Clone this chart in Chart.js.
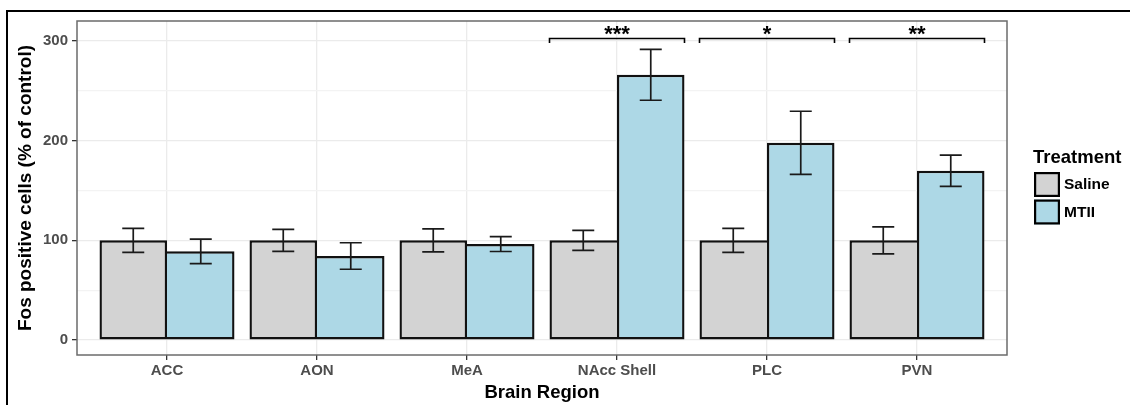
<!DOCTYPE html>
<html><head><meta charset="utf-8">
<script src="https://cdn.jsdelivr.net/npm/chart.js@4.4.1/dist/chart.umd.min.js"></script>
<style>html,body{margin:0;padding:0;background:#fff;}</style>
</head><body>
<canvas id="c" width="1130" height="405" style="display:block;width:1130px;height:405px"></canvas>
<script>
// ---- data ----
const categories = ['ACC', 'AON', 'MeA', 'NAcc Shell', 'PLC', 'PVN'];
const seriesNames = ['Saline', 'MTII'];
const salineMeans = [100, 100, 100, 100, 100, 100];
const salineErr = [12, 11, 11.5, 10, 12, 13.5];
const mtiiMeans = [89, 84.3, 96.3, 266, 197.8, 169.8];
const mtiiErr = [12.3, 13.3, 7.5, 25.5, 31.7, 15.6];
const significance = ['', '', '', '***', '*', '**'];
const yMajorTicks = [0, 100, 200, 300];
const yMinorTicks = [50, 150, 250];
const bracketValue = 302.5;
const bracketTipValue = 298;
const starValue = 313;

const FONT = "'Liberation Sans', Arial, Helvetica, sans-serif";
Chart.defaults.font.family = FONT;
const fills = ['#d3d3d3', '#add8e6'];
const means = [salineMeans, mtiiMeans];
const errs = [salineErr, mtiiErr];
const BW = 2.4;

function borderFor(di) {
  return (ctx) => {
    const i = ctx.dataIndex;
    const s = salineMeans[i], m = mtiiMeans[i];
    if (di === 0) return {top: BW, bottom: BW, left: BW, right: s >= m ? BW : 0};
    return {top: BW, bottom: BW, right: BW, left: m > s ? BW : 0};
  };
}

const datasets = seriesNames.map((name, di) => ({
  label: name,
  data: means[di].map((v, i) => ({x: i + 1, y: v})),
  errors: errs[di],
  backgroundColor: fills[di],
  borderColor: '#111',
  borderWidth: borderFor(di),
  borderSkipped: false,
  categoryPercentage: 0.9,
  barPercentage: 1.0
}));

const decor = {
  id: 'decor',
  afterDatasetsDraw(chart) {
    const ctx = chart.ctx, y = chart.scales.y;
    ctx.save();
    // error bars
    ctx.strokeStyle = '#1a1a1a';
    ctx.lineWidth = 1.7;
    chart.data.datasets.forEach((ds, di) => {
      const meta = chart.getDatasetMeta(di);
      meta.data.forEach((bar, i) => {
        const v = means[di][i], e = ds.errors[i];
        const hi = y.getPixelForValue(v + e), lo = y.getPixelForValue(v - e);
        const x = bar.x, w = 11;
        ctx.beginPath();
        ctx.moveTo(x, hi); ctx.lineTo(x, lo);
        ctx.moveTo(x - w, hi); ctx.lineTo(x + w, hi);
        ctx.moveTo(x - w, lo); ctx.lineTo(x + w, lo);
        ctx.stroke();
      });
    });
    // significance brackets
    const m0 = chart.getDatasetMeta(0), m1 = chart.getDatasetMeta(1);
    ctx.lineWidth = 1.6;
    ctx.strokeStyle = '#000';
    ctx.fillStyle = '#000';
    const by = y.getPixelForValue(bracketValue), ty = y.getPixelForValue(bracketTipValue);
    const sy = y.getPixelForValue(starValue);
    significance.forEach((lab, i) => {
      if (!lab) return;
      const b0 = m0.data[i], b1 = m1.data[i];
      const x0 = b0.x - b0.width / 2, x1 = b1.x + b1.width / 2;
      ctx.beginPath();
      ctx.moveTo(x0, ty); ctx.lineTo(x0, by); ctx.lineTo(x1, by); ctx.lineTo(x1, ty);
      ctx.stroke();
      const fs = 22;
      ctx.font = `bold ${fs}px ${FONT}`;
      ctx.textAlign = 'center';
      ctx.textBaseline = 'alphabetic';
      ctx.fillText(lab, (x0 + x1) / 2, sy + 0.58 * fs);
    });
    ctx.restore();
  },
  afterDraw(chart) {
    const ctx = chart.ctx, a = chart.chartArea;
    ctx.save();
    // panel border
    ctx.strokeStyle = '#6b6b6b';
    ctx.lineWidth = 1.5;
    ctx.strokeRect(a.left, a.top, a.right - a.left, a.bottom - a.top);
    // outer frame (left and top edges only)
    ctx.fillStyle = '#000';
    ctx.fillRect(6, 10, 2, 395);
    ctx.fillRect(6, 10, 1124, 2);
    // legend
    ctx.fillStyle = '#000';
    ctx.font = `bold 18.5px ${FONT}`;
    ctx.textAlign = 'left';
    ctx.textBaseline = 'alphabetic';
    ctx.fillText('Treatment', 1033, 163);
    chart.data.datasets.forEach((ds, di) => {
      const top = 172 + di * 27.5;
      ctx.fillStyle = ds.backgroundColor;
      ctx.fillRect(1034, top, 26, 25);
      ctx.strokeStyle = '#000';
      ctx.lineWidth = 2.2;
      ctx.strokeRect(1035.1, top + 1.1, 23.8, 22.8);
      ctx.fillStyle = '#000';
      ctx.font = `bold 15.5px ${FONT}`;
      ctx.textBaseline = 'middle';
      ctx.fillText(ds.label, 1064, top + 13);
    });
    ctx.restore();
  }
};

new Chart(document.getElementById('c'), {
  type: 'bar',
  data: {datasets},
  options: {
    responsive: false,
    animation: false,
    devicePixelRatio: 1,
    layout: {padding: {left: 8, right: 123, top: 21, bottom: 0}},
    plugins: {legend: {display: false}, tooltip: {enabled: false}},
    scales: {
      x: {
        type: 'linear', min: 0.4, max: 6.6, offset: false,
        afterBuildTicks: (s) => { s.ticks = categories.map((_, i) => ({value: i + 1})); },
        afterFit: (s) => { s.height = 50; },
        ticks: {
          callback: (v) => categories[Math.round(v) - 1] ?? '',
          color: '#4d4d4d', font: {size: 15, weight: 'bold'}, padding: 2,
          maxRotation: 0, autoSkip: false
        },
        grid: {offset: false, color: '#ebebeb', lineWidth: 1.3, tickLength: 5, tickColor: '#333', tickWidth: 1.3},
        border: {display: false},
        title: {display: true, text: 'Brain Region', color: '#000',
          font: {size: 18.5, weight: 'bold'}, padding: {top: 0, bottom: 1}}
      },
      y: {
        min: -15, max: 320,
        afterBuildTicks: (s) => {
          s.ticks = [...yMajorTicks, ...yMinorTicks].sort((a, b) => a - b).map(v => ({value: v}));
        },
        afterFit: (s) => { s.width = 69; },
        ticks: {
          callback: (v) => yMajorTicks.includes(v) ? String(v) : '',
          color: '#4d4d4d', font: {size: 15, weight: 'bold'}, padding: 4
        },
        grid: {
          color: (c) => yMajorTicks.includes(c.tick && c.tick.value) ? '#ebebeb' : '#f3f3f3',
          lineWidth: 1.3, tickLength: 5,
          tickColor: (c) => yMajorTicks.includes(c.tick && c.tick.value) ? '#333' : 'rgba(0,0,0,0)',
          tickWidth: 1.3
        },
        border: {display: false},
        title: {display: true, text: 'Fos positive cells (% of control)', color: '#000',
          font: {size: 19, weight: 'bold'}, padding: {top: 6, bottom: 0}}
      }
    }
  },
  plugins: [decor]
});
</script>
</body></html>
